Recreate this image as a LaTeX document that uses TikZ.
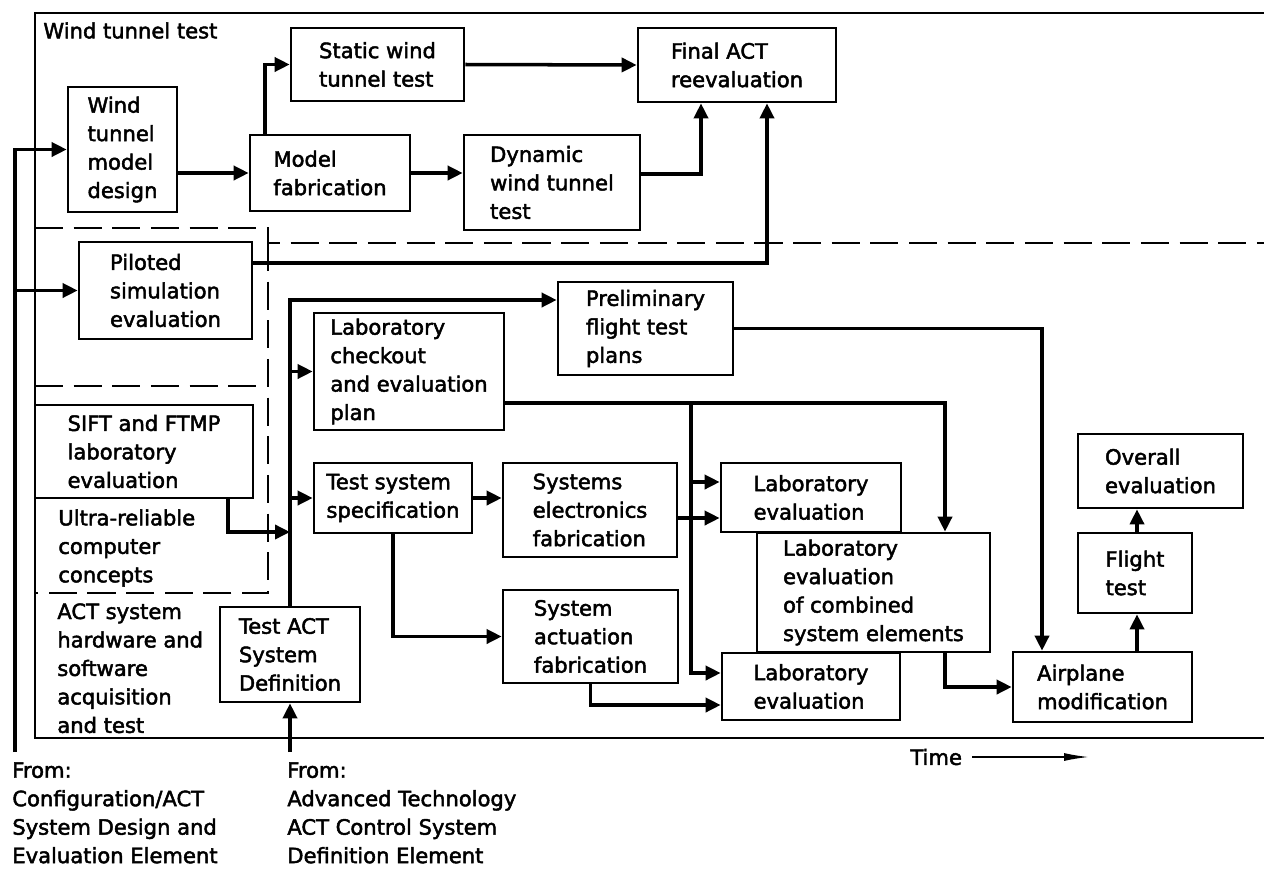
\documentclass[tikz,border=0pt]{standalone}
\usepackage{fontspec}
\setmainfont{DejaVu Sans}[FakeBold=2.2]
\usepackage{tikz}
\usetikzlibrary{arrows.meta}

\begin{document}
\begin{tikzpicture}[x=0.02cm,y=-0.02cm,
  font=\fontsize{12pt}{16.2pt}\selectfont,
  box/.style={draw,fill=white,line width=1.5pt,align=left,inner sep=0pt},
  sz/.style 2 args={minimum width=#1*0.02cm,minimum height=#2*0.02cm},
  note/.style={anchor=north west,align=left,inner sep=0pt},
  frame/.style={line width=1.5pt},
  zone/.style={line width=1.4pt,dash pattern=on 16pt off 6pt},
  conn/.style={line width=2pt,-{Triangle[length=0.3cm,width=0.28cm]}},
  timearr/.style={line width=0.9pt,-{Latex[length=0.5cm,width=0.16cm]}}]
\useasboundingbox (0,0) rectangle (1264,869);
\draw[frame] (1264,13) -- (35,13) -- (35,738) -- (1264,738);
\draw[zone] (35,228) -| (268,243) -- (1264,243);
\draw[zone] (268,243) -- (268,593) -- (35,593);
\draw[zone] (35,386) -- (268,386);
\node[note] (wtt) at (43,22) {Wind tunnel test};
\node[note] (urc) at (58,509) {Ultra-reliable\\computer\\concepts};
\node[note] (acq) at (57,603) {ACT system\\hardware and\\software\\acquisition\\and test};
\node[box,sz={109}{125}] (wtmd) at (122.5,149.5) {Wind\\tunnel\\model\\design};
\node[box,sz={160}{76}] (fab) at (330,173) {Model\\fabrication};
\node[box,sz={173}{73}] (static) at (377.5,64.5) {Static wind\\tunnel test};
\node[box,sz={198}{74}] (final) at (737,65) {Final ACT\\reevaluation};
\node[box,sz={176}{95}] (dyn) at (552,182.5) {Dynamic\\wind tunnel\\test};
\node[box,sz={173}{97}] (pil) at (165.5,290.5) {Piloted\\simulation\\evaluation};
\node[box,sz={218}{93}] (sift) at (144,451.5) {SIFT and FTMP\\laboratory\\evaluation};
\node[box,sz={175}{93}] (prelim) at (645.5,328.5) {Preliminary\\flight test\\plans};
\node[box,sz={190}{117}] (chk) at (409,371.5) {Laboratory\\checkout\\and evaluation\\plan};
\node[box,sz={158}{70}] (spec) at (393,498) {Test system\\specification};
\node[box,sz={174}{94}] (sel) at (590,510) {Systems\\electronics\\fabrication};
\node[box,sz={175}{93}] (act) at (590.5,636.5) {System\\actuation\\fabrication};
\node[box,sz={140}{95}] (tdef) at (290,654.5) {Test ACT\\System\\Definition};
\node[box,sz={180}{69}] (lev1) at (811,497.5) {Laboratory\\evaluation};
\node[box,sz={178}{67}] (lev2) at (811,686.5) {Laboratory\\evaluation};
\node[box,sz={233}{119}] (comb) at (873.5,592.5) {Laboratory\\evaluation\\of combined\\system elements};
\node[box,sz={179}{70}] (air) at (1102.5,687) {Airplane\\modification};
\node[box,sz={114}{80}] (flt) at (1135,573) {Flight\\test};
\node[box,sz={165}{74}] (ovr) at (1160.5,471) {Overall\\evaluation};
\node[note] (fromA) at (12,762) {From:\\Configuration/ACT\\System Design and\\Evaluation Element};
\node[note] (fromB) at (287,762) {From:\\Advanced Technology\\ACT Control System\\Definition Element};
\node[anchor=west,inner sep=0pt] (time) at (910,757) {Time};
\coordinate (srcA) at (15,752);
\coordinate (srcB) at (290,752);
\coordinate (tap) at (691,403);
\coordinate (tend) at (1089,757);
\draw[conn] (srcA) |- (wtmd.west);
\draw[conn] (srcA |- pil.west) -- (pil.west);
\draw[conn] (wtmd.east |- fab.west) -- (fab.west);
\draw[conn] (fab.north west -| 265,0) |- (static.west);
\draw[conn] (static.east) -- (final.west);
\draw[conn] (fab.east) -- (fab.east -| dyn.west);
\draw[conn] (dyn.east |- 0,174) -| (final.south -| 701,0);
\draw[conn] (pil.east |- 0,263) -| (final.south -| 767,0);
\draw[conn] (tdef.north) |- (prelim.west |- 0,300);
\draw[conn] (tdef.north |- chk.west) -- (chk.west);
\draw[conn] (tdef.north |- spec.west) -- (spec.west);
\draw[conn] (sift.south -| 228,0) |- (tdef.north |- 0,532);
\draw[conn] (spec.east) -- (spec.east -| sel.west);
\draw[conn] (spec.south) |- (act.west);
\draw[conn] (sel.east |- 0,518) -- (lev1.west |- 0,518);
\draw[conn] (chk.east |- tap) -| (comb.north -| 945,0);
\draw[conn] (tap) |- (lev2.west |- 0,673);
\draw[conn] (tap |- 0,482) -- (lev1.west |- 0,482);
\draw[conn] (act.south) |- (lev2.west |- 0,705);
\draw[conn] (comb.south -| 945,0) |- (air.west);
\draw[conn] (prelim.east) -| (air.north -| 1042,0);
\draw[conn] (air.north -| 1137,0) -- (flt.south -| 1137,0);
\draw[conn] (flt.north -| 1137,0) -- (ovr.south -| 1137,0);
\draw[conn] (srcB) -- (tdef.south);
\draw[timearr] ([xshift=0.2cm]time.east) -- (tend);
\end{tikzpicture}
\end{document}
